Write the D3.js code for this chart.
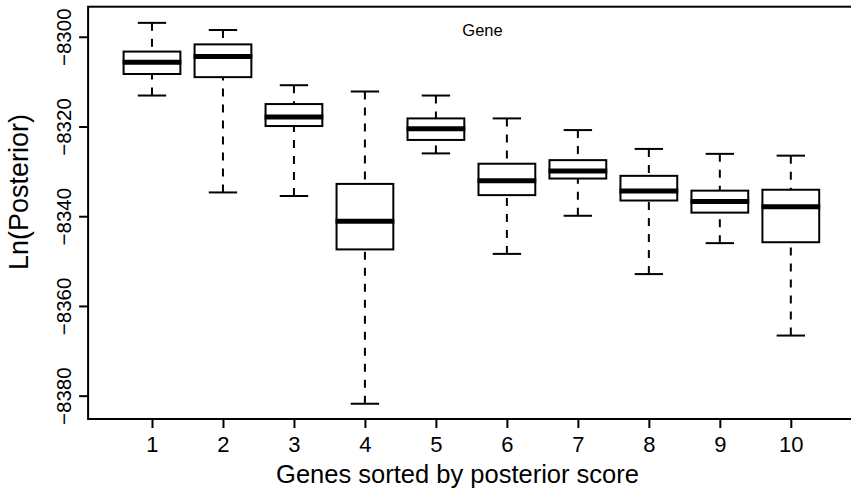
<!DOCTYPE html>
<html>
<head>
<meta charset="utf-8">
<script src="https://cdnjs.cloudflare.com/ajax/libs/d3/7.8.5/d3.min.js"></script>
<style>
  body { margin: 0; background: #fff; }
  text { font-family: "Liberation Sans", Arial, Helvetica, sans-serif; fill: #000; }
</style>
</head>
<body>
<div id="chart-area"></div>
<script>

var total_width = 851;
var total_height = 490;

// data
var genes = [1, 2, 3, 4, 5, 6, 7, 8, 9, 10];
var whiskerHigh = [-8296.9, -8298.5, -8310.8, -8312.2, -8313.1, -8318.2, -8320.8, -8325.0, -8326.1, -8326.5];
var q3 = [-8303.3, -8301.7, -8315.0, -8332.8, -8318.2, -8328.3, -8327.5, -8331.0, -8334.3, -8334.1];
var medians = [-8305.7, -8304.4, -8317.9, -8341.1, -8320.5, -8332.1, -8329.9, -8334.4, -8336.7, -8337.9];
var q1 = [-8308.3, -8309.0, -8319.9, -8347.4, -8323.0, -8335.3, -8331.6, -8336.5, -8339.2, -8345.8];
var whiskerLow = [-8313.1, -8334.7, -8335.5, -8381.8, -8326.0, -8348.4, -8339.9, -8352.9, -8346.0, -8366.6];
var yTicks = [-8300, -8320, -8340, -8360, -8380];
var xLim = [0.1, 10.9];
var yLim = [-8385.2, -8293.3];

var title = "Gene";
var xTitle = "Genes sorted by posterior score";
var yTitle = "Ln(Posterior)";

var svg = d3.select('#chart-area').append('svg')
            .attr("width", total_width)
            .attr("height", total_height);

var x = d3.scaleLinear().domain(xLim).range([88.1, 854.7]);
var y = d3.scaleLinear().domain(yLim).range([419, 6.7]);

var boxW = x(0.8) - x(0);
var capW = x(0.4) - x(0);

var data = genes.map(function(g, i){
    return {gene: g, hi: whiskerHigh[i], q3: q3[i], med: medians[i], q1: q1[i], lo: whiskerLow[i]};
});

var boxes = svg.append('g').selectAll('g')
               .data(data).enter().append('g');

// dashed whiskers, drawn from the cap towards the box
boxes.append('line')
     .attr("x1", (d) => x(d.gene)).attr("x2", (d) => x(d.gene))
     .attr("y1", (d) => y(d.hi)).attr("y2", (d) => y(d.q3))
     .attr("stroke", "#000").attr("stroke-width", 2)
     .attr("stroke-dasharray", "8,8");
boxes.append('line')
     .attr("x1", (d) => x(d.gene)).attr("x2", (d) => x(d.gene))
     .attr("y1", (d) => y(d.lo)).attr("y2", (d) => y(d.q1))
     .attr("stroke", "#000").attr("stroke-width", 2)
     .attr("stroke-dasharray", "8,8");

// caps
boxes.append('line')
     .attr("x1", (d) => x(d.gene) - capW/2).attr("x2", (d) => x(d.gene) + capW/2)
     .attr("y1", (d) => y(d.hi)).attr("y2", (d) => y(d.hi))
     .attr("stroke", "#000").attr("stroke-width", 2);
boxes.append('line')
     .attr("x1", (d) => x(d.gene) - capW/2).attr("x2", (d) => x(d.gene) + capW/2)
     .attr("y1", (d) => y(d.lo)).attr("y2", (d) => y(d.lo))
     .attr("stroke", "#000").attr("stroke-width", 2);

// box
boxes.append('rect')
     .attr("x", (d) => x(d.gene) - boxW/2)
     .attr("width", boxW)
     .attr("y", (d) => y(d.q3))
     .attr("height", (d) => y(d.q1) - y(d.q3))
     .attr("fill", "#fff")
     .attr("stroke", "#000").attr("stroke-width", 2);

// median
boxes.append('line')
     .attr("x1", (d) => x(d.gene) - boxW/2 - 1).attr("x2", (d) => x(d.gene) + boxW/2 + 1)
     .attr("y1", (d) => y(d.med)).attr("y2", (d) => y(d.med))
     .attr("stroke", "#000").attr("stroke-width", 5);

// frame
svg.append('rect')
   .attr("x", x(xLim[0])).attr("y", y(yLim[1]))
   .attr("width", x(xLim[1]) - x(xLim[0]))
   .attr("height", y(yLim[0]) - y(yLim[1]))
   .attr("fill", "none")
   .attr("stroke", "#000").attr("stroke-width", 2);

// axes
var xAxis = d3.axisBottom(x).tickValues(genes).tickSize(9).tickPadding(8)
              .tickFormat(d3.format("d"));
var yAxis = d3.axisLeft(y).tickValues(yTicks).tickSize(9)
              .tickFormat(d3.format("d"));

var gx = svg.append('g').attr("transform", "translate(0," + y(yLim[0]) + ")").call(xAxis);
gx.attr("font-size", 22).attr("font-family", null);
gx.select(".domain").remove();
gx.selectAll(".tick line").attr("stroke-width", 2);
gx.selectAll(".tick text").attr("dy", "0.72em");

var gy = svg.append('g').attr("transform", "translate(" + x(xLim[0]) + ",0)").call(yAxis);
gy.attr("font-size", 20.5).attr("font-family", null);
gy.select(".domain").remove();
gy.selectAll(".tick line").attr("stroke-width", 2);
gy.selectAll(".tick text")
  .attr("text-anchor", "middle")
  .attr("x", null).attr("dy", null)
  .attr("transform", "translate(-17,0) rotate(-90)");

// titles
svg.append('text')
   .attr("x", 482.5).attr("y", 35.5)
   .attr("text-anchor", "middle")
   .attr("font-size", 16.5)
   .text(title);

svg.append('text')
   .attr("x", 457.5).attr("y", 483)
   .attr("text-anchor", "middle")
   .attr("font-size", 25.5)
   .text(xTitle);

svg.append('text')
   .attr("transform", "translate(28,192) rotate(-90)")
   .attr("text-anchor", "middle")
   .attr("font-size", 27)
   .text(yTitle);

</script>
</body>
</html>
